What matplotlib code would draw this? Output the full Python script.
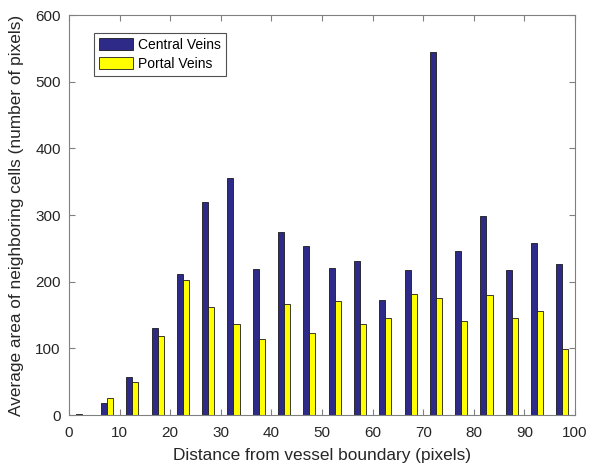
import numpy as np
import matplotlib.pyplot as plt

plt.rcParams['font.family'] = ['Liberation Sans', 'DejaVu Sans']

# group centres (distance bins, pixels)
distance = [2.5, 7.5, 12.5, 17.5, 22.5, 27.5, 32.5, 37.5, 42.5, 47.5,
            52.5, 57.5, 62.5, 67.5, 72.5, 77.5, 82.5, 87.5, 92.5, 97.5]
central = [1, 18, 57, 131, 212, 320, 355, 219, 274, 253,
           220, 231, 172, 217, 544, 246, 298, 218, 258, 227]
portal = [0, 26, 50, 119, 203, 162, 137, 114, 166, 123,
          171, 137, 146, 181, 175, 141, 180, 145, 156, 99]

fig = plt.figure(figsize=(5.94, 4.66), dpi=100)
ax = fig.add_axes([0.1162, 0.1094, 0.8519, 0.8584])

w = 1.2
x = np.array(distance)
ax.bar(x - w / 2, central, width=w, color='#2e2a87', edgecolor='#1a1a1a',
       linewidth=0.6, label='Central Veins')
ax.bar(x + w / 2, portal, width=w, color='#ffff00', edgecolor='#1a1a1a',
       linewidth=0.6, label='Portal Veins')

ax.set_xlim(0, 100)
ax.set_ylim(0, 600)
ax.set_xticks(range(0, 101, 10))
ax.set_yticks(range(0, 601, 100))

gray = '#808080'
for s in ax.spines.values():
    s.set_color(gray)
    s.set_linewidth(0.8)
ax.tick_params(direction='in', top=True, right=True, length=4, width=0.8,
               color=gray, labelsize=11, labelcolor='#262626')
ax.tick_params(axis='x', pad=8)
ax.tick_params(axis='y', pad=6)

ax.set_xlabel('Distance from vessel boundary (pixels)', fontsize=12.4,
              color='#262626', labelpad=6)
ax.set_ylabel('Average area of neighboring cells (number of pixels)', fontsize=12.4,
              color='#262626', labelpad=8)

leg = ax.legend(loc='upper left', bbox_to_anchor=(0.049, 0.955), borderaxespad=0,
                fontsize=10, frameon=True, fancybox=False, handlelength=2.5,
                handleheight=0.95, borderpad=0.35, labelspacing=0.35,
                handletextpad=0.35)
leg.get_frame().set_edgecolor('#262626')
leg.get_frame().set_linewidth(0.8)

fig.savefig('out.png', dpi=100)
